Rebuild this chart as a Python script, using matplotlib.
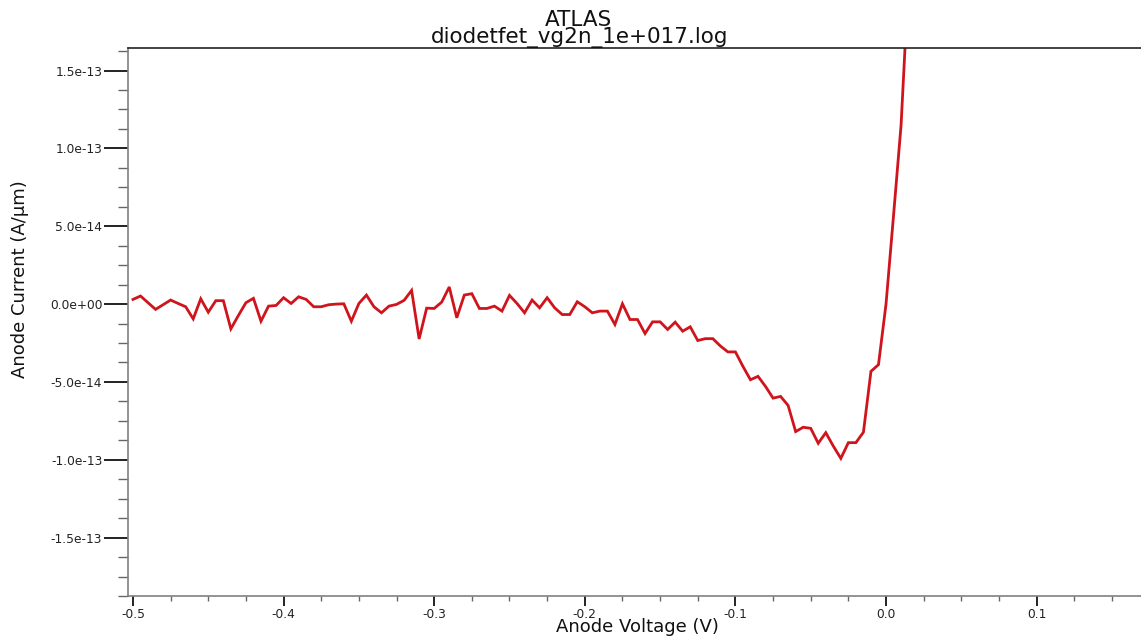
#!/usr/bin/env python3
"""ATLAS anode I-V sweep, diodetfet_vg2n_1e+017.log"""

import numpy as np
import matplotlib
matplotlib.use('Agg')
import matplotlib.pyplot as plt
from matplotlib.ticker import MultipleLocator, FuncFormatter

# anode voltage sweep (V)
anode_v = [
    -0.500, -0.495, -0.490, -0.485, -0.480, -0.475, -0.470, -0.465, -0.460, -0.455,
    -0.450, -0.445, -0.440, -0.435, -0.430, -0.425, -0.420, -0.415, -0.410, -0.405,
    -0.400, -0.395, -0.390, -0.385, -0.380, -0.375, -0.370, -0.365, -0.360, -0.355,
    -0.350, -0.345, -0.340, -0.335, -0.330, -0.325, -0.320, -0.315, -0.310, -0.305,
    -0.300, -0.295, -0.290, -0.285, -0.280, -0.275, -0.270, -0.265, -0.260, -0.255,
    -0.250, -0.245, -0.240, -0.235, -0.230, -0.225, -0.220, -0.215, -0.210, -0.205,
    -0.200, -0.195, -0.190, -0.185, -0.180, -0.175, -0.170, -0.165, -0.160, -0.155,
    -0.150, -0.145, -0.140, -0.135, -0.130, -0.125, -0.120, -0.115, -0.110, -0.105,
    -0.100, -0.095, -0.090, -0.085, -0.080, -0.075, -0.070, -0.065, -0.060, -0.055,
    -0.050, -0.045, -0.040, -0.035, -0.030, -0.025, -0.020, -0.015, -0.010, -0.005,
    0.000, 0.005, 0.010, 0.015,
]

# anode current, in units of 1e-14 A/um
anode_i = [
    0.30, 0.52, 0.09, -0.34, -0.04, 0.26, 0.04, -0.17, -0.95, 0.34,
    -0.52, 0.22, 0.22, -1.59, -0.73, 0.09, 0.37, -1.10, -0.13, -0.09,
    0.41, 0.04, 0.47, 0.30, -0.17, -0.17, -0.04, 0.00, 0.02, -1.10,
    0.04, 0.58, -0.17, -0.56, -0.13, -0.02, 0.24, 0.88, -2.24, -0.26,
    -0.28, 0.13, 1.10, -0.88, 0.58, 0.67, -0.28, -0.28, -0.13, -0.45,
    0.56, 0.04, -0.56, 0.26, -0.24, 0.41, -0.24, -0.67, -0.67, 0.15,
    -0.17, -0.56, -0.45, -0.45, -1.31, 0.02, -0.99, -0.99, -1.89, -1.14,
    -1.14, -1.63, -1.16, -1.74, -1.46, -2.34, -2.22, -2.22, -2.69, -3.07,
    -3.07, -4.00, -4.86, -4.64, -5.29, -6.04, -5.93, -6.51, -8.19, -7.91,
    -7.98, -8.94, -8.26, -9.12, -9.91, -8.90, -8.90, -8.23, -4.32, -3.89,
    0.00, 5.70, 11.5, 21.0,
]

title_top = 'ATLAS'
title_file = 'diodetfet_vg2n_1e+017.log'

W, H = 1141, 638
fig = plt.figure(figsize=(W / 100, H / 100), dpi=100)
ax = fig.add_axes([128 / W, 1 - 596 / H, 1 - 128 / W, (596 - 48) / H])

ax.plot(anode_v, np.array(anode_i) * 1e-14, color='#d0141c', lw=2.0,
        solid_joinstyle='miter')

ax.set_xlim(-0.5033, 0.1693)
ax.set_ylim(-1.875e-13, 1.645e-13)

ax.xaxis.set_major_locator(MultipleLocator(0.1))
ax.xaxis.set_minor_locator(MultipleLocator(0.025))
ax.yaxis.set_major_locator(MultipleLocator(5e-14))
ax.yaxis.set_minor_locator(MultipleLocator(1.25e-14))
ax.xaxis.set_major_formatter(FuncFormatter(lambda v, p: f'{round(v, 3) + 0.0:.1f}'))
ax.yaxis.set_major_formatter(FuncFormatter(lambda v, p: '%.1e' % (v + 0.0)))

ax.tick_params(axis='y', which='major', length=17, width=1.3, color='#111',
               labelsize=8.8, labelcolor='#222', pad=1.5)
ax.tick_params(axis='y', which='minor', length=7, width=1.0, color='#666')
ax.tick_params(axis='x', which='major', length=7, width=1.3, color='#111',
               labelsize=8.8, labelcolor='#222', pad=2)
ax.tick_params(axis='x', which='minor', length=3.5, width=1.0, color='#666')

for s in ('left', 'bottom'):
  ax.spines[s].set_color('#808080')
  ax.spines[s].set_linewidth(1.2)
ax.spines['top'].set_color('#222')
ax.spines['top'].set_linewidth(1.2)
ax.spines['right'].set_visible(False)

fig.text(637 / W, 1 - 627 / H, 'Anode Voltage (V)', ha='center', va='center',
         fontsize=13, color='#111')
fig.text(20 / W, 1 - 279 / H, 'Anode Current (A/\u03bcm)', ha='center', va='center',
         rotation=90, fontsize=13, color='#111')
fig.text(578 / W, 1 - 20 / H, title_top, ha='center', va='center',
         fontsize=15.5, color='#111')
fig.text(580 / W, 1 - 37 / H, title_file, ha='center', va='center',
         fontsize=15.5, color='#111')

fig.savefig('out.png', dpi=100)
